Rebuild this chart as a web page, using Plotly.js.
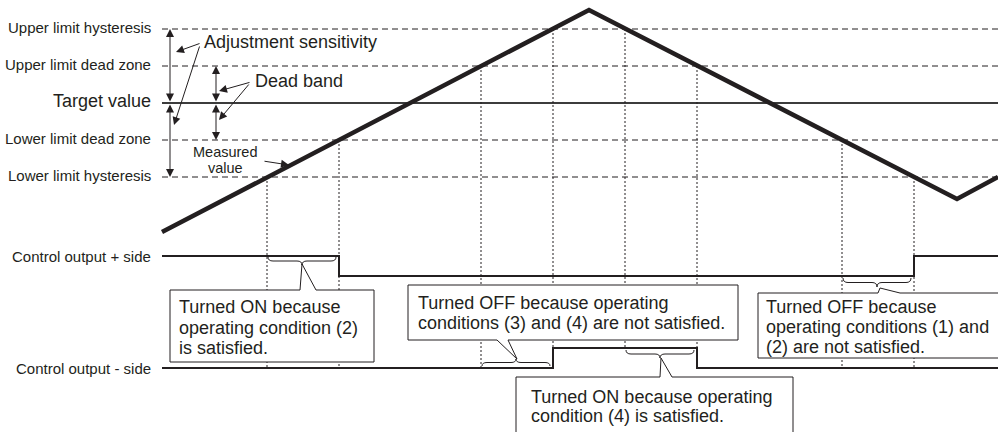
<!DOCTYPE html>
<html><head><meta charset="utf-8">
<script src="https://cdn.plot.ly/plotly-3.0.1.min.js"></script>
<style>html,body{margin:0;padding:0;background:#fff;}#chart{width:998px;height:432px;}</style>
</head><body><div id="chart"></div>
<script>
// ---- data (diagram units: time on x, level on a downward axis) ----
const levelNames = ['Upper limit hysteresis','Upper limit dead zone','Target value','Lower limit dead zone','Lower limit hysteresis'];
const levelVals  = [29, 66, 103, 140, 177];
const pvTime  = [162, 589, 957, 998];
const pvValue = [232, 10, 199, 177];
const crossTime  = [267, 339, 481, 553, 625, 697, 842, 914];
const crossValue = [177, 140, 66, 29, 29, 66, 140, 177];
const plusTime   = [162, 339, 339, 914, 914, 998];
const plusValue  = [256, 256, 276, 276, 256, 256];
const minusTime  = [162, 553, 553, 697, 697, 998];
const minusValue = [368, 368, 348, 348, 368, 368];
const outputNames = ['Control output + side','Control output - side'];
const calloutLines = [
  ['Turned ON because','operating condition (2)','is satisfied.'],
  ['Turned OFF because operating','conditions (3) and (4) are not satisfied.'],
  ['Turned ON because operating','condition (4) is satisfied.'],
  ['Turned OFF because','operating conditions (1) and','(2) are not satisfied.']
];

// ---- styling / layout config ----
const INK = '#231f20';
const FONT = 'Liberation Sans, Arial, Helvetica, sans-serif';
const lineStart = 162, lineEnd = 998;

const traces = [];
// dashed levels
const dx = [], dy = [];
levelVals.forEach((v,i)=>{ if(i!==2){ dx.push(lineStart,lineEnd,null); dy.push(v,v,null);} });
traces.push({x:dx,y:dy,mode:'lines',line:{color:INK,width:1,dash:'6px,4px'},hoverinfo:'skip'});
// target line
traces.push({x:[lineStart,lineEnd],y:[levelVals[2],levelVals[2]],mode:'lines',line:{color:'#3c3c3c',width:2},hoverinfo:'skip'});
// vertical dotted lines from crossing down to the minus-side output
function minusAt(t){
  let best = null;
  for(let i=0;i<minusTime.length-1;i++){
    const t0=minusTime[i],t1=minusTime[i+1];
    if(t>=t0 && t<=t1){
      const v = t1===t0 ? Math.min(minusValue[i],minusValue[i+1]) : minusValue[i]+(minusValue[i+1]-minusValue[i])*(t-t0)/(t1-t0);
      best = best===null?v:Math.min(best,v);
    }
  }
  return best;
}
const vx=[],vy=[];
crossTime.forEach((t,i)=>{ vx.push(t,t,null); vy.push(crossValue[i],minusAt(t),null); });
traces.push({x:vx,y:vy,mode:'lines',line:{color:INK,width:1,dash:'2px,2px'},hoverinfo:'skip'});
// measured value
traces.push({x:pvTime,y:pvValue,mode:'lines',line:{color:INK,width:4.5},hoverinfo:'skip'});
// outputs
traces.push({x:plusTime,y:plusValue,mode:'lines',line:{color:INK,width:2},hoverinfo:'skip'});
traces.push({x:minusTime,y:minusValue,mode:'lines',line:{color:INK,width:2},hoverinfo:'skip'});

// ---- shapes: callout boxes with tails, braces ----
const boxes = [
  {l:170,t:290,r:374,b:362,side:'top',a:300,c:316,tx:302,ty:264},
  {l:408,t:285,r:738,b:340,side:'bottom',a:497,c:508,tx:517,ty:359},
  {l:516,t:377,r:793,b:445,side:'top',a:660,c:672,tx:661,ty:358},
  {l:758,t:293,r:1010,b:358,side:'top',a:878,c:900,tx:880,ty:288}
];
const shapes = [];
boxes.forEach(bx=>{
  let p;
  if(bx.side==='top'){
    p = `M${bx.l},${bx.t} L${bx.a},${bx.t} L${bx.tx},${bx.ty} L${bx.c},${bx.t} L${bx.r},${bx.t} L${bx.r},${bx.b} L${bx.l},${bx.b} Z`;
  } else {
    p = `M${bx.l},${bx.t} L${bx.r},${bx.t} L${bx.r},${bx.b} L${bx.c},${bx.b} L${bx.tx},${bx.ty} L${bx.a},${bx.b} L${bx.l},${bx.b} Z`;
  }
  shapes.push({type:'path',path:p,xref:'x',yref:'y',layer:'above',fillcolor:'white',line:{color:INK,width:1}});
});
function brace(x1,x2,y0,h){
  const xm=(x1+x2)/2, r=Math.min(5,(x2-x1)/4);
  return `M${x1},${y0} Q${x1},${y0+h} ${x1+r},${y0+h} L${xm-r},${y0+h} Q${xm},${y0+h} ${xm},${y0+2*h} Q${xm},${y0+h} ${xm+r},${y0+h} L${x2-r},${y0+h} Q${x2},${y0+h} ${x2},${y0}`;
}
const braceSpec = [
  {i:0,j:1,y0:257,h:4},
  {i:2,j:3,y0:366,h:-3.5},
  {i:4,j:5,y0:350,h:4},
  {i:6,j:7,y0:278,h:4.5}
];
braceSpec.forEach(s=>{
  shapes.push({type:'path',path:brace(crossTime[s.i]+1,crossTime[s.j]-3,s.y0,s.h),xref:'x',yref:'y',layer:'above',line:{color:INK,width:1}});
});

// ---- annotations ----
const ann = [];
const lblFont = {family:FONT,size:15,color:INK};
levelNames.forEach((n,i)=>{
  ann.push({x:153,y:levelVals[i]-2,xref:'x',yref:'y',text:n,showarrow:false,xanchor:'right',yanchor:'middle',
    font:i===2?{family:FONT,size:18,color:INK}:lblFont});
});
ann.push({x:153,y:plusValue[0],xref:'x',yref:'y',text:outputNames[0],showarrow:false,xanchor:'right',yanchor:'middle',font:lblFont});
ann.push({x:153,y:minusValue[0],xref:'x',yref:'y',text:outputNames[1],showarrow:false,xanchor:'right',yanchor:'middle',font:lblFont});

const big = {family:FONT,size:18,color:INK};
ann.push({x:202,y:42,xref:'x',yref:'y',text:'Adjustment sensitivity',showarrow:false,xanchor:'left',yanchor:'middle',font:big});
ann.push({x:253,y:81,xref:'x',yref:'y',text:'Dead band',showarrow:false,xanchor:'left',yanchor:'middle',font:big});
ann.push({x:225,y:152,xref:'x',yref:'y',text:'Measured',showarrow:false,xanchor:'center',yanchor:'middle',font:{family:FONT,size:14.5,color:INK}});
ann.push({x:225,y:168,xref:'x',yref:'y',text:'value',showarrow:false,xanchor:'center',yanchor:'middle',font:{family:FONT,size:14.5,color:INK}});

function arrow(x,y,ax,ay,both){
  ann.push({x:x,y:y,ax:ax,ay:ay,xref:'x',yref:'y',axref:'x',ayref:'y',text:'',showarrow:true,
    arrowhead:2,arrowsize:1.6,arrowwidth:1,arrowcolor:INK,arrowside:both?'end+start':'end',standoff:0,startstandoff:0});
}
// double arrows (adjustment sensitivity / dead band)
arrow(170,levelVals[0],170,levelVals[2],true);
arrow(170,levelVals[4],170,levelVals[2],true);
arrow(216,levelVals[1],216,levelVals[2],true);
arrow(216,levelVals[3],216,levelVals[2],true);
// pointer arrows
arrow(176,52,201,43,false);
arrow(174,125,200,45,false);
arrow(219,91,251,82,false);
arrow(219,120,250,83,false);
arrow(289,165,263,161,false);

// callout text
const textPos = [
  {x:177,y:[307,328,348]},
  {x:416,y:[303,323]},
  {x:529,y:[397,416]},
  {x:764,y:[307,327,347]}
];
calloutLines.forEach((lines,k)=>{
  lines.forEach((s,j)=>{
    ann.push({x:textPos[k].x,y:textPos[k].y[j],xref:'x',yref:'y',text:s,showarrow:false,xanchor:'left',yanchor:'middle',font:big});
  });
});

const layout = {
  width:998,height:432,margin:{l:0,r:0,t:0,b:0,pad:0},
  paper_bgcolor:'white',plot_bgcolor:'white',showlegend:false,
  xaxis:{range:[0,998],visible:false,fixedrange:true},
  yaxis:{range:[432,0],visible:false,fixedrange:true},
  shapes:shapes,annotations:ann
};
Plotly.newPlot('chart',traces,layout,{staticPlot:true,displayModeBar:false});
</script></body></html>
